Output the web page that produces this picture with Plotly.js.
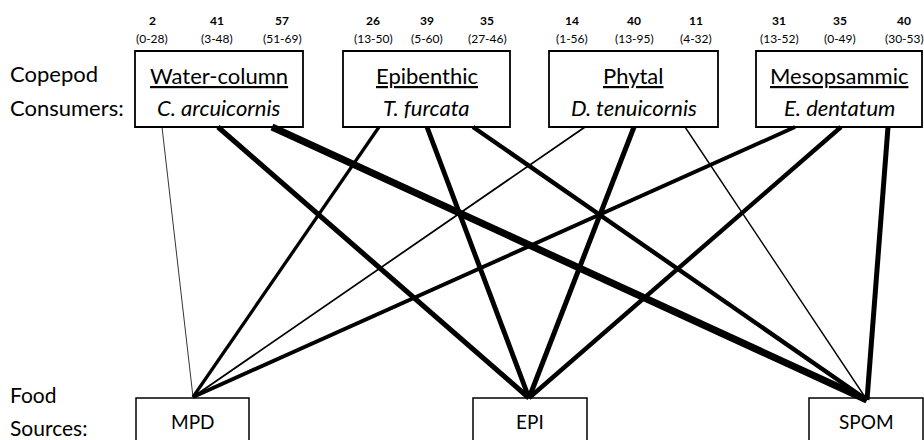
<!DOCTYPE html>
<html>
<head>
<meta charset="utf-8">
<script src="https://cdn.plot.ly/plotly-3.0.1.min.js"></script>
<style>html,body{margin:0;padding:0;background:#fff;}#chart{width:924px;height:440px;}</style>
</head>
<body>
<div id="chart"></div>
<script>
// ---- data ----
var consumerGroups  = ['Water-column', 'Epibenthic', 'Phytal', 'Mesopsammic'];
var consumerSpecies = ['C. arcuicornis', 'T. furcata', 'D. tenuicornis', 'E. dentatum'];
var sources = ['MPD', 'EPI', 'SPOM'];
var contribMPD  = [2, 26, 14, 31];
var contribEPI  = [41, 39, 40, 35];
var contribSPOM = [57, 35, 11, 40];
var rangeMPD  = ['0-28', '13-50', '1-56', '13-52'];
var rangeEPI  = ['3-48', '5-60', '13-95', '0-49'];
var rangeSPOM = ['51-69', '27-46', '4-32', '30-53'];

// ---- layout positions (pixel-like coordinates on hidden axes) ----
var consumerBoxX = [[135, 303], [343, 510], [549, 718], [756, 922]];
var consumerBoxY = [51, 127];
var linkStartX = [[162, 218, 272], [379, 427, 473], [585, 634, 685], [795, 841, 888]];
var labelX = [[152, 217, 282], [373, 427, 487], [572, 634, 696], [779, 840, 904]];
var sourceBoxX = [[136, 249], [473, 587], [809, 923]];
var sourceBoxTop = 398;
var sourceAnchor = [[193, 397], [529, 398], [867, 400]];

var FONT = 'Lato, "Open Sans", sans-serif';
var contribs = [contribMPD, contribEPI, contribSPOM];
var ranges = [rangeMPD, rangeEPI, rangeSPOM];

var traces = [];
for (var c = 0; c < consumerGroups.length; c++) {
  for (var s = 0; s < sources.length; s++) {
    var v = contribs[s][c];
    traces.push({
      type: 'scatter', mode: 'lines',
      x: [linkStartX[c][s], sourceAnchor[s][0]],
      y: [consumerBoxY[1], sourceAnchor[s][1]],
      line: {color: '#000', width: Math.max(0.8, v / 8)},
      hoverinfo: 'skip', showlegend: false
    });
  }
}

var shapes = [];
var annotations = [];
function ann(x, y, text, size, extra) {
  var a = {x: x, y: y, xref: 'x', yref: 'y', text: text, showarrow: false,
    font: {family: FONT, size: size, color: '#000'}, xanchor: 'center', yanchor: 'middle'};
  if (extra) for (var k in extra) a[k] = extra[k];
  annotations.push(a);
}

for (var c = 0; c < consumerGroups.length; c++) {
  var bx = consumerBoxX[c];
  shapes.push({type: 'rect', xref: 'x', yref: 'y', x0: bx[0], x1: bx[1], y0: consumerBoxY[0], y1: consumerBoxY[1],
    line: {color: '#000', width: 1.8}, fillcolor: 'rgba(0,0,0,0)', layer: 'above'});
  var cx = (bx[0] + bx[1]) / 2;
  ann(cx, 75, '<span style="text-decoration:underline">' + consumerGroups[c] + '</span>', 22);
  ann(cx, 107, '<i>' + consumerSpecies[c] + '</i>', 22);
  for (var s = 0; s < sources.length; s++) {
    ann(labelX[c][s], 20, '<b>' + contribs[s][c] + '</b>', 12);
    ann(labelX[c][s], 38, '(' + ranges[s][c] + ')', 12);
  }
}

for (var s = 0; s < sources.length; s++) {
  var sx = sourceBoxX[s];
  shapes.push({type: 'rect', xref: 'x', yref: 'y', x0: sx[0], x1: sx[1], y0: sourceBoxTop, y1: 460,
    line: {color: '#000', width: 1.5}, fillcolor: 'rgba(0,0,0,0)', layer: 'above'});
  ann((sx[0] + sx[1]) / 2, 421, sources[s], 19);
}

ann(8, 73, 'Copepod', 22, {xanchor: 'left'});
ann(8, 107, 'Consumers:', 22, {xanchor: 'left'});
ann(8, 394, 'Food', 21, {xanchor: 'left'});
ann(8, 427, 'Sources:', 21, {xanchor: 'left'});

var layout = {
  width: 924, height: 440,
  margin: {l: 0, r: 0, t: 0, b: 0},
  paper_bgcolor: '#fff', plot_bgcolor: '#fff',
  xaxis: {range: [0, 924], visible: false, fixedrange: true},
  yaxis: {range: [440, 0], visible: false, fixedrange: true},
  shapes: shapes, annotations: annotations, showlegend: false
};
Plotly.newPlot('chart', traces, layout, {staticPlot: true, displayModeBar: false});
</script>
</body>
</html>
